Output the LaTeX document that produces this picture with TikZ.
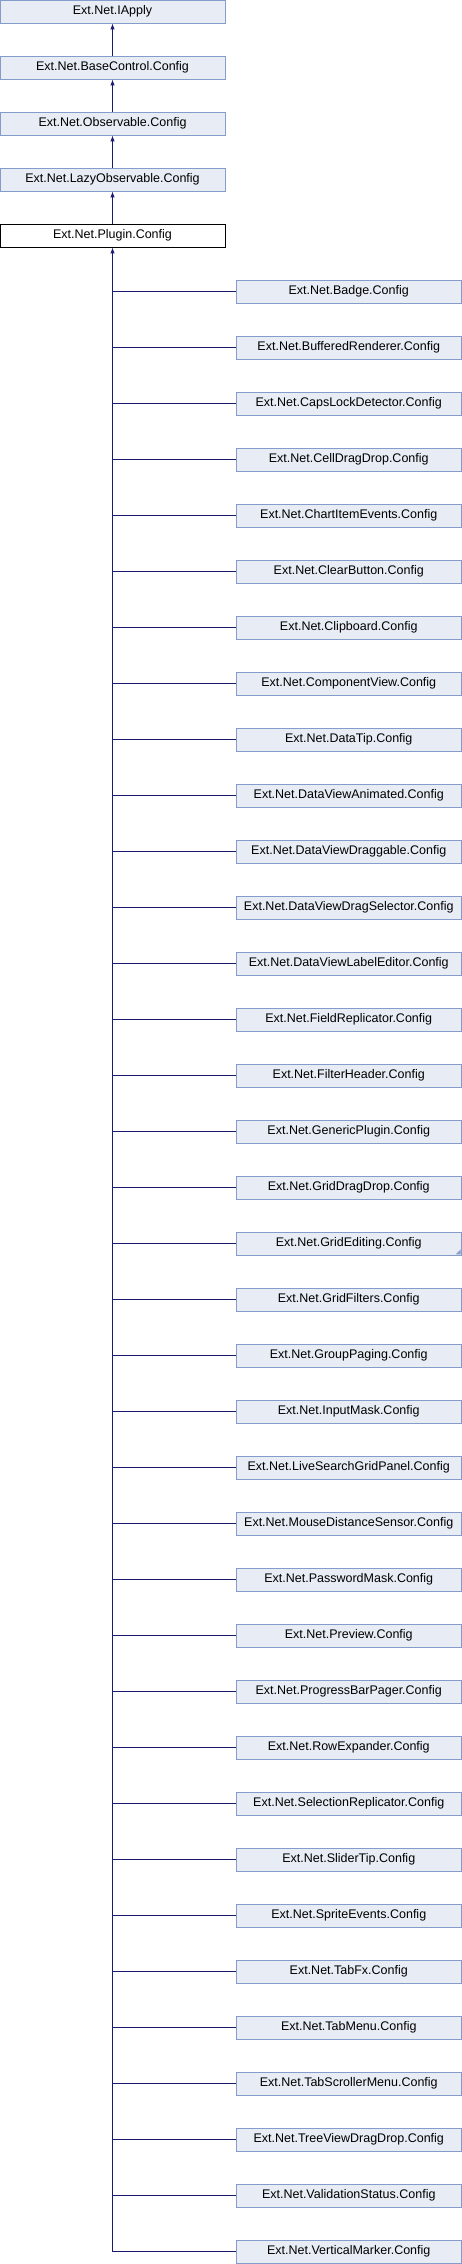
\documentclass[tikz,border=0pt]{standalone}
\usepackage{fontspec}
\setmainfont{Liberation Sans}
\usepackage{tikz}
\usetikzlibrary{arrows.meta,shapes}
\definecolor{boxfill}{RGB}{232,236,245}
\definecolor{boxline}{RGB}{132,155,204}
\definecolor{edgeblue}{RGB}{25,25,112}

\begin{document}
\begin{tikzpicture}[x=1pt, y=-1pt, >={Latex[length=6pt,width=4.5pt]}]
      \tikzstyle{every node}=[font=\fontsize{12.5}{14}\selectfont, inner sep=0pt, minimum height=23pt]
      \tikzstyle{cls}=[draw=boxline, fill=boxfill, line width=0.9pt, minimum width=225pt]
      \tikzstyle{cur}=[draw=black, fill=white, line width=0.9pt, minimum width=225pt]
      \tikzstyle{edge}=[draw=edgeblue, line width=1pt]
      \useasboundingbox (0,0) rectangle (462,2264);
      %%
\node (v_iapply) at (112.5,11.5) [cls] {Ext.Net.IApply};
  \node (v_basecontrol) at (112.5,67.5) [cls] {Ext.Net.BaseControl.Config};
  \node (v_observable) at (112.5,123.5) [cls] {Ext.Net.Observable.Config};
  \node (v_lazyobservable) at (112.5,179.5) [cls] {Ext.Net.LazyObservable.Config};
  \node (v_plugin) at (112.5,235.5) [cur] {Ext.Net.Plugin.Config};
  \node (c_1) at (348.75,291.5) [cls] {Ext.Net.Badge.Config};
  \node (c_2) at (348.75,347.5) [cls] {Ext.Net.BufferedRenderer.Config};
  \node (c_3) at (348.75,403.5) [cls] {Ext.Net.CapsLockDetector.Config};
  \node (c_4) at (348.75,459.5) [cls] {Ext.Net.CellDragDrop.Config};
  \node (c_5) at (348.75,515.5) [cls] {Ext.Net.ChartItemEvents.Config};
  \node (c_6) at (348.75,571.5) [cls] {Ext.Net.ClearButton.Config};
  \node (c_7) at (348.75,627.5) [cls] {Ext.Net.Clipboard.Config};
  \node (c_8) at (348.75,683.5) [cls] {Ext.Net.ComponentView.Config};
  \node (c_9) at (348.75,739.5) [cls] {Ext.Net.DataTip.Config};
  \node (c_10) at (348.75,795.5) [cls] {Ext.Net.DataViewAnimated.Config};
  \node (c_11) at (348.75,851.5) [cls] {Ext.Net.DataViewDraggable.Config};
  \node (c_12) at (348.75,907.5) [cls] {Ext.Net.DataViewDragSelector.Config};
  \node (c_13) at (348.75,963.5) [cls] {Ext.Net.DataViewLabelEditor.Config};
  \node (c_14) at (348.75,1019.5) [cls] {Ext.Net.FieldReplicator.Config};
  \node (c_15) at (348.75,1075.5) [cls] {Ext.Net.FilterHeader.Config};
  \node (c_16) at (348.75,1131.5) [cls] {Ext.Net.GenericPlugin.Config};
  \node (c_17) at (348.75,1187.5) [cls] {Ext.Net.GridDragDrop.Config};
  \node (c_18) at (348.75,1243.5) [cls] {Ext.Net.GridEditing.Config};
  \node (c_19) at (348.75,1299.5) [cls] {Ext.Net.GridFilters.Config};
  \node (c_20) at (348.75,1355.5) [cls] {Ext.Net.GroupPaging.Config};
  \node (c_21) at (348.75,1411.5) [cls] {Ext.Net.InputMask.Config};
  \node (c_22) at (348.75,1467.5) [cls] {Ext.Net.LiveSearchGridPanel.Config};
  \node (c_23) at (348.75,1523.5) [cls] {Ext.Net.MouseDistanceSensor.Config};
  \node (c_24) at (348.75,1579.5) [cls] {Ext.Net.PasswordMask.Config};
  \node (c_25) at (348.75,1635.5) [cls] {Ext.Net.Preview.Config};
  \node (c_26) at (348.75,1691.5) [cls] {Ext.Net.ProgressBarPager.Config};
  \node (c_27) at (348.75,1747.5) [cls] {Ext.Net.RowExpander.Config};
  \node (c_28) at (348.75,1803.5) [cls] {Ext.Net.SelectionReplicator.Config};
  \node (c_29) at (348.75,1859.5) [cls] {Ext.Net.SliderTip.Config};
  \node (c_30) at (348.75,1915.5) [cls] {Ext.Net.SpriteEvents.Config};
  \node (c_31) at (348.75,1971.5) [cls] {Ext.Net.TabFx.Config};
  \node (c_32) at (348.75,2027.5) [cls] {Ext.Net.TabMenu.Config};
  \node (c_33) at (348.75,2083.5) [cls] {Ext.Net.TabScrollerMenu.Config};
  \node (c_34) at (348.75,2139.5) [cls] {Ext.Net.TreeViewDragDrop.Config};
  \node (c_35) at (348.75,2195.5) [cls] {Ext.Net.ValidationStatus.Config};
  \node (c_36) at (348.75,2251.5) [cls] {Ext.Net.VerticalMarker.Config};
  % corner mark of GridEditing
  \fill [boxline] ([shift={(-1,-1)}]c_18.south east) -- ++(-5,0) -- ++(5,-5) -- cycle;
  \draw [edge,->] (v_basecontrol) -- (v_iapply);
  \draw [edge,->] (v_observable) -- (v_basecontrol);
  \draw [edge,->] (v_lazyobservable) -- (v_observable);
  \draw [edge,->] (v_plugin) -- (v_lazyobservable);
  \draw [edge,->] (c_36.west) -| (v_plugin.south);
  \draw [edge] (c_1.west) -- (v_plugin.south |- c_1.west);
  \draw [edge] (c_2.west) -- (v_plugin.south |- c_2.west);
  \draw [edge] (c_3.west) -- (v_plugin.south |- c_3.west);
  \draw [edge] (c_4.west) -- (v_plugin.south |- c_4.west);
  \draw [edge] (c_5.west) -- (v_plugin.south |- c_5.west);
  \draw [edge] (c_6.west) -- (v_plugin.south |- c_6.west);
  \draw [edge] (c_7.west) -- (v_plugin.south |- c_7.west);
  \draw [edge] (c_8.west) -- (v_plugin.south |- c_8.west);
  \draw [edge] (c_9.west) -- (v_plugin.south |- c_9.west);
  \draw [edge] (c_10.west) -- (v_plugin.south |- c_10.west);
  \draw [edge] (c_11.west) -- (v_plugin.south |- c_11.west);
  \draw [edge] (c_12.west) -- (v_plugin.south |- c_12.west);
  \draw [edge] (c_13.west) -- (v_plugin.south |- c_13.west);
  \draw [edge] (c_14.west) -- (v_plugin.south |- c_14.west);
  \draw [edge] (c_15.west) -- (v_plugin.south |- c_15.west);
  \draw [edge] (c_16.west) -- (v_plugin.south |- c_16.west);
  \draw [edge] (c_17.west) -- (v_plugin.south |- c_17.west);
  \draw [edge] (c_18.west) -- (v_plugin.south |- c_18.west);
  \draw [edge] (c_19.west) -- (v_plugin.south |- c_19.west);
  \draw [edge] (c_20.west) -- (v_plugin.south |- c_20.west);
  \draw [edge] (c_21.west) -- (v_plugin.south |- c_21.west);
  \draw [edge] (c_22.west) -- (v_plugin.south |- c_22.west);
  \draw [edge] (c_23.west) -- (v_plugin.south |- c_23.west);
  \draw [edge] (c_24.west) -- (v_plugin.south |- c_24.west);
  \draw [edge] (c_25.west) -- (v_plugin.south |- c_25.west);
  \draw [edge] (c_26.west) -- (v_plugin.south |- c_26.west);
  \draw [edge] (c_27.west) -- (v_plugin.south |- c_27.west);
  \draw [edge] (c_28.west) -- (v_plugin.south |- c_28.west);
  \draw [edge] (c_29.west) -- (v_plugin.south |- c_29.west);
  \draw [edge] (c_30.west) -- (v_plugin.south |- c_30.west);
  \draw [edge] (c_31.west) -- (v_plugin.south |- c_31.west);
  \draw [edge] (c_32.west) -- (v_plugin.south |- c_32.west);
  \draw [edge] (c_33.west) -- (v_plugin.south |- c_33.west);
  \draw [edge] (c_34.west) -- (v_plugin.south |- c_34.west);
  \draw [edge] (c_35.west) -- (v_plugin.south |- c_35.west);
%

    \end{tikzpicture}
\end{document}
